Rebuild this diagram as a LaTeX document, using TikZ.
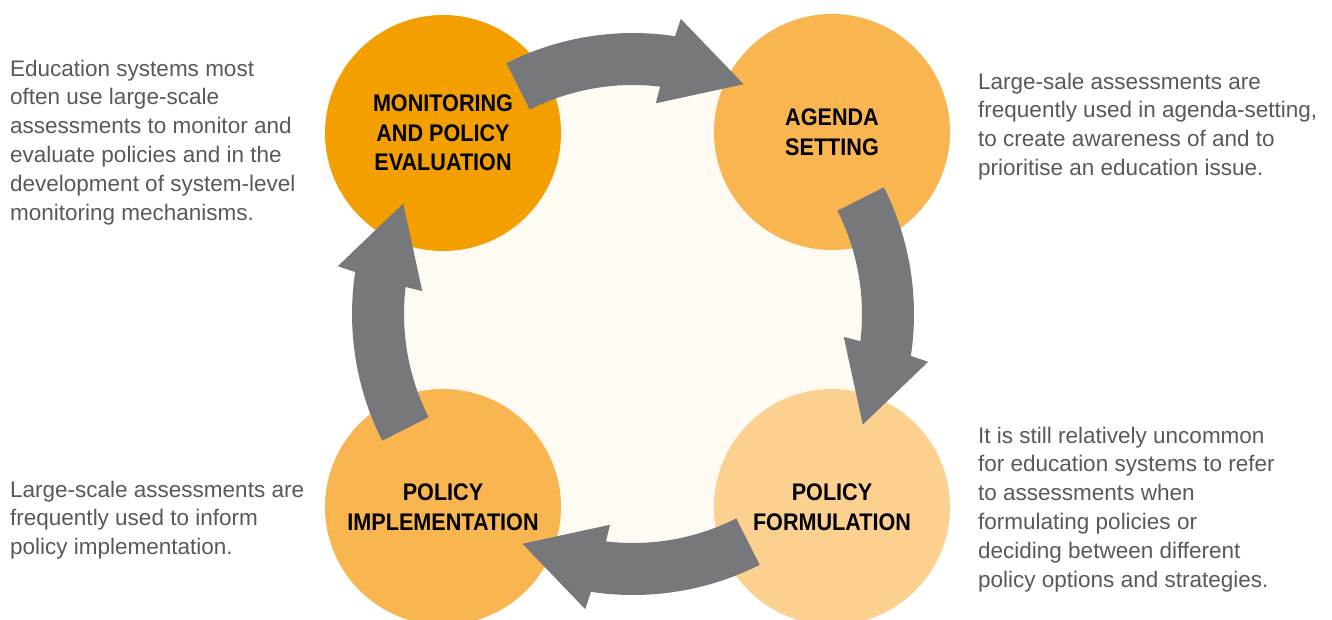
\documentclass[tikz,border=0pt]{standalone}
\usepackage{fontspec}
\setmainfont{Liberation Sans}
\newfontfamily\lblfont{Liberation Sans}[FakeStretch=0.9]
\definecolor{orangeA}{RGB}{243,159,0}
\definecolor{orangeB}{RGB}{248,181,80}
\definecolor{orangeC}{RGB}{252,208,143}
\definecolor{cream}{RGB}{255,251,243}
\definecolor{arrowgray}{RGB}{119,120,123}
\definecolor{notegray}{RGB}{88,89,91}
\tikzset{
  stage/.style={circle, minimum size=236pt, inner sep=0pt, align=center, text=black,
    font=\lblfont\bfseries\fontsize{24}{29.5}\selectfont},
  note/.style={anchor=north west, inner sep=0pt, align=left, text=notegray,
    font=\fontsize{22.5}{28.8}\selectfont},
  cyc/.style={fill=arrowgray},
}
\begin{document}
\begin{tikzpicture}[x=1pt,y=1pt]
\useasboundingbox (0,0) rectangle (1332,-619);
\fill[white] (0,0) rectangle (1332,-619);
\coordinate (c) at (633,-314);
\fill[cream] (c) circle[radius=250];
\node[stage, fill=orangeA] (mon) at (443,-133) {MONITORING\\AND POLICY\\EVALUATION};
\node[stage, fill=orangeB] (agenda) at (832,-132) {AGENDA\\SETTING};
\node[stage, fill=orangeB] (impl) at (443,-507) {POLICY\\IMPLEMENTATION};
\node[stage, fill=orangeC] (form) at (832,-507) {POLICY\\FORMULATION};
\begin{scope}[shift={(c)}]
\foreach \t in {243.2,333.2,63.2,153.2}{
  \fill[cyc] ({-\t}:281) arc[start angle={-\t}, end angle={-\t-35.4}, radius=281]
    -- ({-\t-36}:299) -- ({-\t-52.5}:255) -- ({-\t-33}:212) -- ({-\t-33.6}:229)
    arc[start angle={-\t-33.6}, end angle={-\t}, radius=229] -- cycle;
}
\end{scope}
\node[note] (tmon) at (10,-55.8) {\strut Education systems most\\often use large-scale\\assessments to monitor and\\evaluate policies and in the\\development of system-level\\monitoring mechanisms.};
\node[note] (tagenda) at (978,-68.8) {\strut Large-sale assessments are\\frequently used in agenda-setting,\\to create awareness of and to\\prioritise an education issue.};
\node[note] (timpl) at (10,-476.8) {\strut Large-scale assessments are\\frequently used to inform\\policy implementation.};
\node[note] (tform) at (978,-422.8) {\strut It is still relatively uncommon\\for education systems to refer\\to assessments when\\formulating policies or\\deciding between different\\policy options and strategies.};
\end{tikzpicture}
\end{document}
